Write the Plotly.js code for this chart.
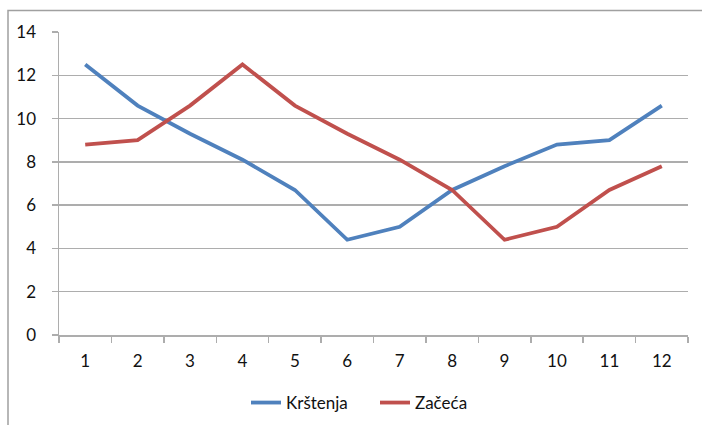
<!DOCTYPE html>
<html>
<head>
<meta charset="utf-8">
<script src="https://cdn.plot.ly/plotly-3.0.1.min.js"></script>
<style>
html,body{margin:0;padding:0;background:#fff;}
#chart{width:702px;height:425px;}
</style>
</head>
<body>
<div id="chart"></div>
<script>
const months = ['1','2','3','4','5','6','7','8','9','10','11','12'];
const krstenja = [12.5, 10.6, 9.3, 8.1, 6.7, 4.4, 5.0, 6.7, 7.8, 8.8, 9.0, 10.6];
const zaceca = [8.8, 9.0, 10.6, 12.5, 10.6, 9.3, 8.1, 6.7, 4.4, 5.0, 6.7, 7.8];
const seriesNames = ['Krštenja', 'Začeća'];

const gray = '#ADADAD';
const traces = [
  {x: months, y: krstenja, name: seriesNames[0], type: 'scatter', mode: 'lines',
   line: {color: '#4F81BD', width: 3.8}},
  {x: months, y: zaceca, name: seriesNames[1], type: 'scatter', mode: 'lines',
   line: {color: '#C0504D', width: 3.8}}
];

const layout = {
  width: 702, height: 425,
  margin: {l: 59, r: 14, t: 32, b: 90},
  paper_bgcolor: '#fff', plot_bgcolor: '#fff',
  font: {family: 'Lato, "Open Sans", sans-serif', size: 17, color: '#111'},
  showlegend: true,
  legend: {orientation: 'h', x: 246/702, xanchor: 'left', xref: 'container',
           y: 1 - 403/425, yanchor: 'middle', yref: 'container',
           font: {size: 17}, itemwidth: 30, entrywidth: 84, tracegroupgap: 0},
  xaxis: {type: 'category', range: [-0.5, 11.5], showgrid: false, showline: true,
          linecolor: gray, linewidth: 1.5, automargin: false,
          ticks: 'outside', tickson: 'boundaries', ticklen: 6, tickcolor: gray, tickwidth: 1.5,
          ticklabelstandoff: 10, zeroline: false, fixedrange: true},
  yaxis: {range: [0, 14], dtick: 2, showgrid: true, gridcolor: gray, gridwidth: 1.5,
          showline: true, linecolor: gray, linewidth: 1.5, ticks: 'outside', ticklen: 6,
          tickcolor: gray, tickwidth: 1.5, ticklabelstandoff: 12, zeroline: false,
          automargin: false, fixedrange: true},
  shapes: [{type: 'rect', xref: 'paper', yref: 'paper',
            x0: -51/629, x1: 1.2, y0: -0.5, y1: 1 + 21.5/303,
            line: {color: '#A0A0A0', width: 1.5}, fillcolor: 'rgba(0,0,0,0)', layer: 'below'}]
};

Plotly.newPlot('chart', traces, layout, {displayModeBar: false, staticPlot: true});
</script>
</body>
</html>
